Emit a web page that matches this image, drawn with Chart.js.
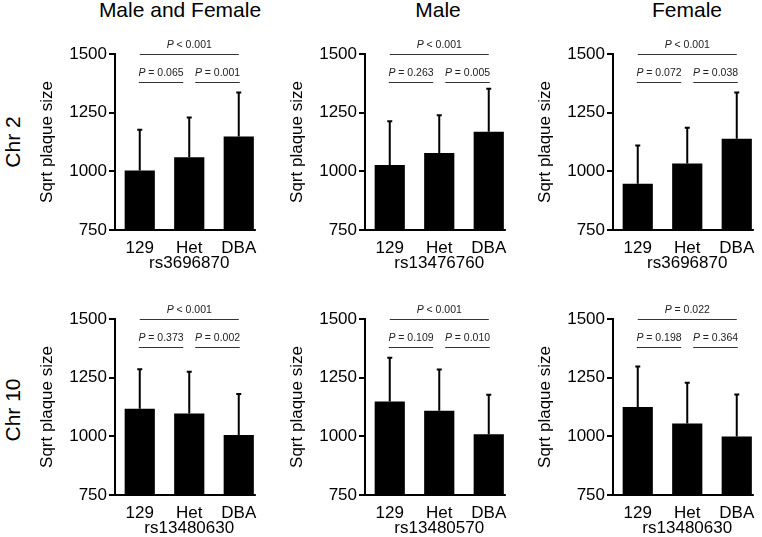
<!DOCTYPE html>
<html lang="en">
<head>
  <meta charset="UTF-8" />
  <title>Sqrt plaque size by genotype</title>
  <script src="https://cdn.jsdelivr.net/npm/chart.js"></script>
  <style>
    body {
      margin: 0;
      width: 762px;
      height: 537px;
      overflow: hidden;
      background: #fff;
      position: relative;
      font-family: "Liberation Sans", Arial, sans-serif;
      color: #000;
    }
    canvas {
      position: absolute;
    }
    .col-title {
      position: absolute;
      width: 300px;
      text-align: center;
      font-size: 21px;
      line-height: 21px;
      top: -1px;
    }
    .row-title {
      position: absolute;
      width: 100px;
      text-align: center;
      font-size: 21px;
      line-height: 21px;
      transform: translate(-50%, -50%) rotate(-90deg);
    }
  </style>
</head>
<body>
  <div class="col-title" style="left: 30px;">Male and Female</div>
  <div class="col-title" style="left: 288px;">Male</div>
  <div class="col-title" style="left: 537px;">Female</div>
  <div class="row-title" style="left: 12px; top: 142px;">Chr 2</div>
  <div class="row-title" style="left: 12px; top: 410px;">Chr 10</div>

  <canvas id="c1" width="229" height="245" style="left: 35px; top: 30px;"></canvas>
  <canvas id="c2" width="229" height="245" style="left: 285px; top: 30px;"></canvas>
  <canvas id="c3" width="229" height="245" style="left: 533px; top: 30px;"></canvas>
  <canvas id="c4" width="229" height="245" style="left: 35px; top: 295px;"></canvas>
  <canvas id="c5" width="229" height="245" style="left: 285px; top: 295px;"></canvas>
  <canvas id="c6" width="229" height="245" style="left: 533px; top: 295px;"></canvas>

  <script>
    const genotypes = ['129', 'Het', 'DBA'];
    const yTicks = [750, 1000, 1250, 1500];
    const snps = ['rs3696870', 'rs13476760', 'rs3696870', 'rs13480630', 'rs13480570', 'rs13480630'];

    // means and upper SD per genotype
    const chr2Both = [1004, 1060, 1148];
    const chr2BothSd = [175, 172, 190];
    const chr2Male = [1027, 1078, 1169];
    const chr2MaleSd = [189, 163, 185];
    const chr2Female = [947, 1033, 1139];
    const chr2FemaleSd = [165, 155, 199];
    const chr10Both = [1118, 1097, 1006];
    const chr10BothSd = [170, 180, 176];
    const chr10Male = [1148, 1109, 1009];
    const chr10MaleSd = [189, 178, 170];
    const chr10Female = [1125, 1055, 999];
    const chr10FemaleSd = [175, 175, 181];

    // p values: [129 vs DBA, 129 vs Het, Het vs DBA]
    const pChr2Both = ['< 0.001', '= 0.065', '= 0.001'];
    const pChr2Male = ['< 0.001', '= 0.263', '= 0.005'];
    const pChr2Female = ['< 0.001', '= 0.072', '= 0.038'];
    const pChr10Both = ['< 0.001', '= 0.373', '= 0.002'];
    const pChr10Male = ['< 0.001', '= 0.109', '= 0.010'];
    const pChr10Female = ['= 0.022', '= 0.198', '= 0.364'];

    const topLevel = 1500;
    const lowLevel = 1379;

    const panels = [
      { id: 'c1', means: chr2Both, sds: chr2BothSd, p: pChr2Both, snp: snps[0] },
      { id: 'c2', means: chr2Male, sds: chr2MaleSd, p: pChr2Male, snp: snps[1] },
      { id: 'c3', means: chr2Female, sds: chr2FemaleSd, p: pChr2Female, snp: snps[2] },
      { id: 'c4', means: chr10Both, sds: chr10BothSd, p: pChr10Both, snp: snps[3] },
      { id: 'c5', means: chr10Male, sds: chr10MaleSd, p: pChr10Male, snp: snps[4] },
      { id: 'c6', means: chr10Female, sds: chr10FemaleSd, p: pChr10Female, snp: snps[5] }
    ];

    const FONT = '"Liberation Sans", Arial, sans-serif';

    const errorBars = {
      id: 'errorBars',
      afterDatasetsDraw(chart) {
        const ctx = chart.ctx;
        const y = chart.scales.y;
        const ds = chart.data.datasets[0];
        const bars = chart.getDatasetMeta(0).data;
        ctx.save();
        ctx.strokeStyle = '#000';
        ctx.lineWidth = 2;
        bars.forEach((bar, i) => {
          const top = y.getPixelForValue(ds.data[i] + ds.errors[i]);
          ctx.beginPath();
          ctx.moveTo(bar.x, bar.y);
          ctx.lineTo(bar.x, top);
          ctx.moveTo(bar.x - 2.5, top + 0.5);
          ctx.lineTo(bar.x + 2.5, top + 0.5);
          ctx.stroke();
        });
        ctx.restore();
      }
    };

    function drawP(ctx, text, cx, cy) {
      const italic = 'italic 10.5px ' + FONT;
      const plain = '10.5px ' + FONT;
      ctx.font = italic;
      const wP = ctx.measureText('P').width;
      ctx.font = plain;
      const rest = ' ' + text;
      const wR = ctx.measureText(rest).width;
      const x0 = cx - (wP + wR) / 2;
      ctx.textBaseline = 'middle';
      ctx.textAlign = 'left';
      ctx.font = italic;
      ctx.fillText('P', x0, cy);
      ctx.font = plain;
      ctx.fillText(rest, x0 + wP, cy);
    }

    const brackets = {
      id: 'brackets',
      afterDraw(chart, args, opts) {
        const ctx = chart.ctx;
        const y = chart.scales.y;
        const bars = chart.getDatasetMeta(0).data;
        const c0 = bars[0].x, c1 = bars[1].x, c2 = bars[2].x;
        const yTop = Math.round(y.getPixelForValue(topLevel)) + 0.5;
        const yLow = Math.round(y.getPixelForValue(lowLevel)) + 0.5;
        const spans = [
          [c0, c2, yTop, opts.p[0]],
          [c0 - 1, c1 - 6, yLow, opts.p[1]],
          [c1 + 6, c2 + 1, yLow, opts.p[2]]
        ];
        ctx.save();
        ctx.strokeStyle = '#333';
        ctx.fillStyle = '#222';
        ctx.lineWidth = 1;
        spans.forEach(([a, b, yy, txt]) => {
          ctx.beginPath();
          ctx.moveTo(a, yy);
          ctx.lineTo(b, yy);
          ctx.stroke();
          drawP(ctx, txt, (a + b) / 2, yy - 9);
        });

        // x axis line, ends just past the last bar
        const last = bars[bars.length - 1];
        const area = chart.chartArea;
        ctx.strokeStyle = '#000';
        ctx.lineWidth = 2;
        ctx.beginPath();
        ctx.moveTo(area.left - 1, area.bottom);
        ctx.lineTo(last.x + last.width / 2 + 2, area.bottom);
        ctx.stroke();
        ctx.restore();
      }
    };

    panels.forEach(panel => {
      new Chart(document.getElementById(panel.id), {
        type: 'bar',
        data: {
          labels: genotypes,
          datasets: [{
            data: panel.means,
            errors: panel.sds,
            base: 750,
            backgroundColor: '#000',
            borderWidth: 0,
            barPercentage: 0.61,
            categoryPercentage: 1
          }]
        },
        options: {
          responsive: false,
          animation: false,
          events: [],
          layout: { padding: { top: 24, right: 0.5, bottom: 0, left: 0 } },
          plugins: {
            legend: { display: false },
            tooltip: { enabled: false },
            brackets: { p: panel.p }
          },
          scales: {
            x: {
              grid: { display: false },
              border: { display: false },
              ticks: { color: '#000', font: { size: 17, family: FONT }, padding: 0 },
              title: {
                display: true,
                text: panel.snp,
                color: '#000',
                font: { size: 17, family: FONT },
                padding: { top: 0, bottom: 1 }
              },
              afterFit: s => { s.height = 45; }
            },
            y: {
              min: 750,
              max: 1500,
              afterBuildTicks: s => { s.ticks = yTicks.map(v => ({ value: v })); },
              ticks: {
                color: '#000',
                font: { size: 17, family: FONT },
                padding: 2,
                callback: v => String(v)
              },
              grid: {
                drawOnChartArea: false,
                drawTicks: true,
                tickLength: 6,
                color: '#000',
                lineWidth: 2
              },
              border: { color: '#000', width: 2 },
              title: {
                display: true,
                text: 'Sqrt plaque size',
                color: '#000',
                font: { size: 17, family: FONT },
                padding: { top: 2, bottom: 0 }
              },
              afterFit: s => { s.width = 80; }
            }
          }
        },
        plugins: [errorBars, brackets]
      });
    });
  </script>
</body>
</html>
